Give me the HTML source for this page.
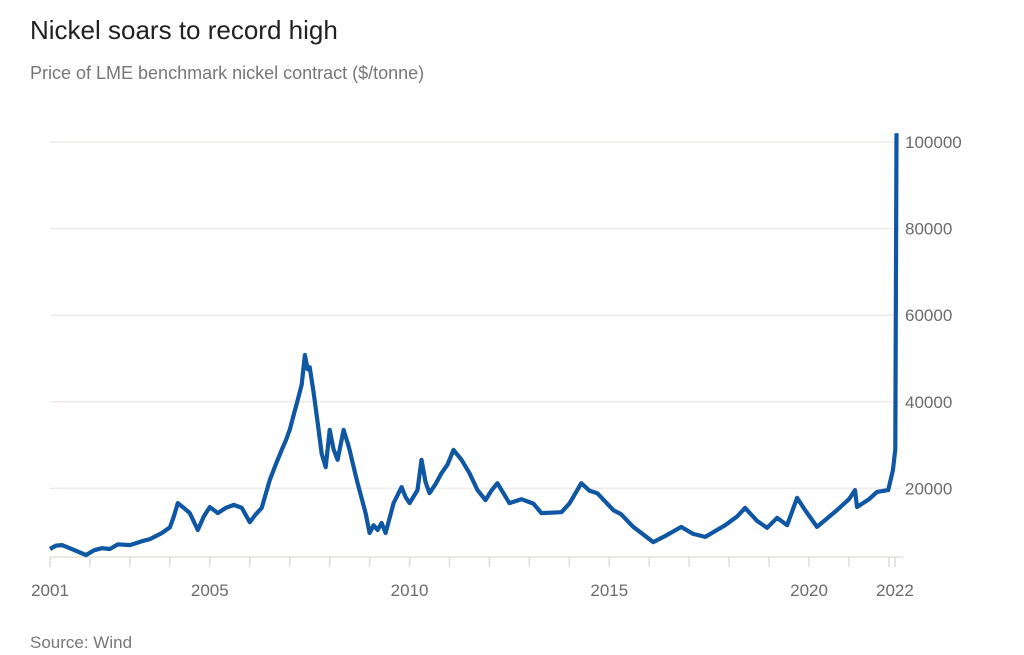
<!DOCTYPE html>
<html><head><meta charset="utf-8"><style>
html,body{margin:0;padding:0;background:#fff;width:1024px;height:655px;overflow:hidden}
svg{display:block;font-family:"Liberation Sans",sans-serif}
</style></head><body>
<svg id="chart" width="1024" height="655" viewBox="0 0 1024 655">
<text x="30" y="39" font-size="26" fill="#222">Nickel soars to record high</text>
<text x="30" y="79" font-size="18" fill="#777">Price of LME benchmark nickel contract ($/tonne)</text>
<g id="grid"></g>
<g id="xaxis"></g>
<g id="yaxis"></g>
<path id="line" fill="none" stroke="#0f56a3" stroke-width="4.2" stroke-linejoin="round"/>
<text x="30" y="648" font-size="17" fill="#777">Source: Wind</text>
</svg>
<script>
const years = [2001.0,2001.15,2001.3,2001.6,2001.9,2002.1,2002.3,2002.5,2002.7,2003.0,2003.3,2003.5,2003.8,2004.0,2004.1,2004.2,2004.35,2004.5,2004.7,2004.85,2005.0,2005.2,2005.4,2005.6,2005.8,2006.0,2006.15,2006.3,2006.5,2006.65,2006.8,2006.9,2007.0,2007.1,2007.2,2007.3,2007.38,2007.45,2007.5,2007.6,2007.7,2007.8,2007.9,2008.0,2008.1,2008.2,2008.35,2008.45,2008.5,2008.6,2008.7,2008.9,2009.0,2009.1,2009.2,2009.3,2009.4,2009.6,2009.8,2009.9,2010.0,2010.2,2010.3,2010.4,2010.5,2010.65,2010.8,2010.95,2011.1,2011.3,2011.5,2011.7,2011.9,2012.05,2012.2,2012.5,2012.8,2013.1,2013.3,2013.8,2014.0,2014.3,2014.5,2014.7,2015.1,2015.3,2015.6,2016.1,2016.4,2016.8,2017.1,2017.4,2017.9,2018.2,2018.4,2018.7,2018.95,2019.2,2019.45,2019.7,2019.9,2020.2,2020.7,2021.0,2021.15,2021.2,2021.5,2021.7,2021.98,2022.1,2022.16,2022.19];
const prices = [6000,6800,6900,5800,4600,5700,6200,6000,7100,6900,7800,8300,9700,11000,13500,16600,15500,14300,10400,13500,15700,14300,15500,16200,15500,12200,14000,15500,21900,25500,28900,31000,33500,37000,40400,44000,50800,47500,48000,42000,35100,28000,24900,33500,29000,26600,33500,30500,28900,25000,21200,14300,9700,11500,10400,12000,9700,16600,20300,18000,16600,19600,26600,21500,18900,21000,23500,25500,28900,26600,23500,19600,17300,19500,21200,16600,17500,16500,14300,14500,16500,21200,19500,18900,15000,14000,11100,7600,9000,11100,9500,8800,11500,13500,15500,12500,10900,13200,11500,17800,15000,11100,15000,17500,19600,15700,17500,19200,19600,24200,29000,102000];
const yTicks = [20000,40000,60000,80000,100000];
const xTickYears = [2001,2002,2003,2004,2005,2006,2007,2008,2009,2010,2011,2012,2013,2014,2015,2016,2017,2018,2019,2020,2021,2022];
const xLabels = [[2001,"2001"],[2005,"2005"],[2010,"2010"],[2015,"2015"],[2020,"2020"],[2022.15,"2022"]];

const NS="http://www.w3.org/2000/svg";
const xs = y => 50 + (y-2001)*39.95;
const ys = v => 575 - v*86.6/20000;
const grid=document.getElementById('grid'), xa=document.getElementById('xaxis'), ya=document.getElementById('yaxis');
function mk(tag,attrs,parent){const e=document.createElementNS(NS,tag);for(const k in attrs)e.setAttribute(k,attrs[k]);parent.appendChild(e);return e;}
yTicks.forEach(v=>{
  const l=mk('line',{x1:50,x2:900,y1:ys(v),y2:ys(v),stroke:'#f0ebe8','stroke-width':1.5},grid);
  
  
  const t=mk('text',{x:905,y:ys(v)+6,'font-size':17,fill:'#6b6b6b'},ya);
  t.textContent=v;
  
  
});
const base=mk('line',{x1:50,x2:903,y1:557,y2:557,stroke:'#e6e1de','stroke-width':1.5},xa);


xTickYears.forEach(y=>{
  const t=mk('line',{x1:xs(y),x2:xs(y),y1:557,y2:567,stroke:'#e0dbd8','stroke-width':1.5},xa);
  
  
});
const endTick=mk('line',{x1:xs(2022.15),x2:xs(2022.15),y1:557,y2:567,stroke:'#e0dbd8','stroke-width':1.5},xa);


xLabels.forEach(([y,s])=>{
  const t=mk('text',{x:xs(y),y:596,'font-size':17,fill:'#6b6b6b','text-anchor':'middle'},xa);
  t.textContent=s;
  
  
});
let d='';
years.forEach((y,i)=>{d+=(i?'L':'M')+xs(y).toFixed(1)+','+ys(prices[i]).toFixed(1);});
document.getElementById('line').setAttribute('d',d);
</script>
</body></html>
